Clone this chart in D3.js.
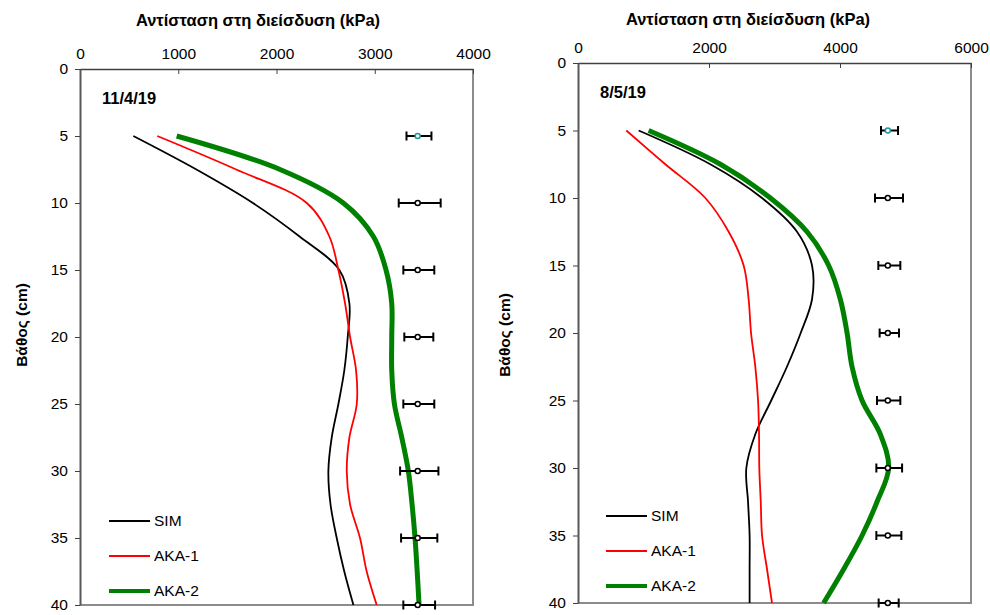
<!DOCTYPE html>
<html>
<head>
<meta charset="utf-8">
<script src="https://cdn.jsdelivr.net/npm/d3@7"></script>
<style>
  body { margin: 0; background: #fff; }
  svg { font-family: "Liberation Sans", Arial, sans-serif; }
</style>
</head>
<body>
<svg id="canvas" width="990" height="615"></svg>
<script>
(function () {
    // depths (cm) where the curves were read
    var depths = [5, 7.5, 10, 12.5, 15, 17.5, 20, 22.5, 25, 27.5, 30, 32.5, 35, 37.5, 40];
    // error bar depths
    var barDepths = [5, 10, 15, 20, 25, 30, 35, 40];
    var seriesNames = ["SIM", "AKA-1", "AKA-2"];

    // panel 1 : 11/4/19
    var sim1 = [543, 1185, 1760, 2235, 2640, 2742, 2725, 2690, 2630, 2562, 2528, 2550, 2613, 2690, 2783];
    var aka1_1 = [787, 1590, 2308, 2538, 2630, 2698, 2749, 2810, 2817, 2742, 2715, 2749, 2850, 2918, 3020];
    var aka2_1 = [984, 2036, 2680, 2986, 3115, 3173, 3173, 3173, 3200, 3275, 3342, 3380, 3410, 3432, 3451];
    var barMean1 = [3437, 3437, 3437, 3437, 3437, 3437, 3437, 3437];
    var barLow1 = [3323, 3244, 3291, 3301, 3291, 3258, 3268, 3291];
    var barHigh1 = [3577, 3671, 3606, 3596, 3606, 3648, 3637, 3614];

    // panel 2 : 8/5/19
    var sim2 = [926, 2020, 2809, 3344, 3573, 3573, 3400, 3190, 2950, 2707, 2570, 2596, 2620, 2620, 2620];
    var aka1_2 = [738, 1333, 1944, 2300, 2529, 2605, 2642, 2707, 2749, 2764, 2768, 2790, 2810, 2886, 2962];
    var aka2_2 = [1078, 2173, 2937, 3497, 3827, 4005, 4108, 4184, 4337, 4616, 4743, 4566, 4337, 4056, 3750];
    var barMean2 = [4730, 4730, 4730, 4730, 4730, 4730, 4730, 4730];
    var barLow2 = [4626, 4534, 4585, 4605, 4565, 4555, 4555, 4590];
    var barHigh2 = [4886, 4962, 4921, 4901, 4921, 4948, 4937, 4896];

    var xTicks1 = [0, 1000, 2000, 3000, 4000];
    var xTicks2 = [0, 2000, 4000, 6000];
    var yTicks = [0, 5, 10, 15, 20, 25, 30, 35, 40];

    var xTitle = "Αντίσταση στη διείσδυση (kPa)";
    var yTitle = "Βάθος (cm)";

    var colors = ["#000000", "#ff0000", "#008000"];
    var widths = [1.8, 1.8, 5];

    var svg = d3.select("#canvas");

    function drawPanel(p) {
        var x = d3.scaleLinear().domain([0, p.xMax]).range([p.left, p.right]);
        var y = d3.scaleLinear().domain([0, 40]).range([p.top, p.bottom]);
        var g = svg.append("g");

        // frame (right + bottom)
        g.append("path")
            .attr("d", "M" + p.right + "," + p.top + "V" + p.bottom + "H" + p.left)
            .attr("fill", "none")
            .attr("stroke", "#8c8c8c")
            .attr("stroke-width", 2);

        // top axis
        var xa = g.append("g")
            .attr("transform", "translate(0," + p.top + ")")
            .call(d3.axisTop(x).tickValues(p.xTicks).tickSize(-5).tickSizeOuter(0).tickFormat(d3.format("d")));
        xa.select(".domain").attr("stroke", "#404040").attr("stroke-width", 1.5);
        xa.selectAll(".tick line").attr("stroke", "#404040");
        xa.selectAll("text").attr("y", -10).attr("font-size", 15.5).attr("fill", "#000");

        // left axis
        var ya = g.append("g")
            .attr("transform", "translate(" + p.left + ",0)")
            .call(d3.axisLeft(y).tickValues(yTicks).tickSize(5).tickSizeOuter(0));
        ya.select(".domain").attr("stroke", "#595959").attr("stroke-width", 2);
        ya.selectAll(".tick line").attr("stroke", "#404040");
        ya.selectAll("text").attr("x", -12).attr("font-size", 15.5).attr("fill", "#000");

        // titles
        g.append("text")
            .attr("x", p.xTitleX).attr("y", p.xTitleY)
            .attr("text-anchor", "middle")
            .attr("font-size", 16.5).attr("font-weight", "bold")
            .text(xTitle);
        g.append("text")
            .attr("transform", "translate(" + p.yTitleX + "," + p.yTitleY + ") rotate(-90)")
            .attr("text-anchor", "middle")
            .attr("font-size", 15.5).attr("font-weight", "bold")
            .text(yTitle);
        g.append("text")
            .attr("x", p.left + 22).attr("y", p.dateY)
            .attr("font-size", 16.5).attr("font-weight", "bold")
            .text(p.date);

        // curves
        var line = d3.line()
            .x(function (d) { return x(d[0]); })
            .y(function (d) { return y(d[1]); })
            .curve(d3.curveCatmullRom.alpha(0.5));

        p.series.forEach(function (vals, i) {
            g.append("path")
                .datum(vals.map(function (v, k) { return [v, depths[k]]; }))
                .attr("d", line)
                .attr("fill", "none")
                .attr("stroke", colors[i])
                .attr("stroke-width", widths[i]);
        });

        // error bars
        var bars = g.append("g").selectAll("g")
            .data(barDepths.map(function (d, k) {
                return { depth: d, mean: p.mean[k], low: p.low[k], high: p.high[k] };
            }))
            .join("g");
        bars.append("line")
            .attr("x1", function (d) { return x(d.low); })
            .attr("x2", function (d) { return x(d.high); })
            .attr("y1", function (d) { return y(d.depth); })
            .attr("y2", function (d) { return y(d.depth); })
            .attr("stroke", "#000").attr("stroke-width", 2);
        ["low", "high"].forEach(function (k) {
            bars.append("line")
                .attr("x1", function (d) { return x(d[k]); })
                .attr("x2", function (d) { return x(d[k]); })
                .attr("y1", function (d) { return y(d.depth) - 4.5; })
                .attr("y2", function (d) { return y(d.depth) + 4.5; })
                .attr("stroke", "#000").attr("stroke-width", 2);
        });
        bars.append("circle")
            .attr("cx", function (d) { return x(d.mean); })
            .attr("cy", function (d) { return y(d.depth); })
            .attr("r", 2.5)
            .attr("fill", "#fff")
            .attr("stroke", function (d, k) { return k === 0 ? "#1a9a9a" : "#000"; })
            .attr("stroke-width", 1.5);

        // legend
        var lg = g.append("g").selectAll("g")
            .data(seriesNames)
            .join("g")
            .attr("transform", function (d, i) { return "translate(" + p.legX + "," + (p.legY + i * 35) + ")"; });
        lg.append("line")
            .attr("x1", 0).attr("x2", 41)
            .attr("stroke", function (d, i) { return colors[i]; })
            .attr("stroke-width", function (d, i) { return i === 2 ? 4 : 2; });
        lg.append("text")
            .attr("x", 45).attr("dy", "0.35em")
            .attr("font-size", 15.5)
            .text(function (d) { return d; });
    }

    drawPanel({
        left: 80, right: 473, top: 69, bottom: 605, xMax: 4000, xTicks: xTicks1,
        xTitleX: 258, xTitleY: 26, yTitleX: 27, yTitleY: 325,
        date: "11/4/19", dateY: 104,
        series: [sim1, aka1_1, aka2_1], mean: barMean1, low: barLow1, high: barHigh1,
        legX: 109, legY: 521
    });
    drawPanel({
        left: 578, right: 971, top: 63, bottom: 603, xMax: 6000, xTicks: xTicks2,
        xTitleX: 748, xTitleY: 25, yTitleX: 510, yTitleY: 335,
        date: "8/5/19", dateY: 98,
        series: [sim2, aka1_2, aka2_2], mean: barMean2, low: barLow2, high: barHigh2,
        legX: 606, legY: 516
    });
})();
</script>
</body>
</html>
